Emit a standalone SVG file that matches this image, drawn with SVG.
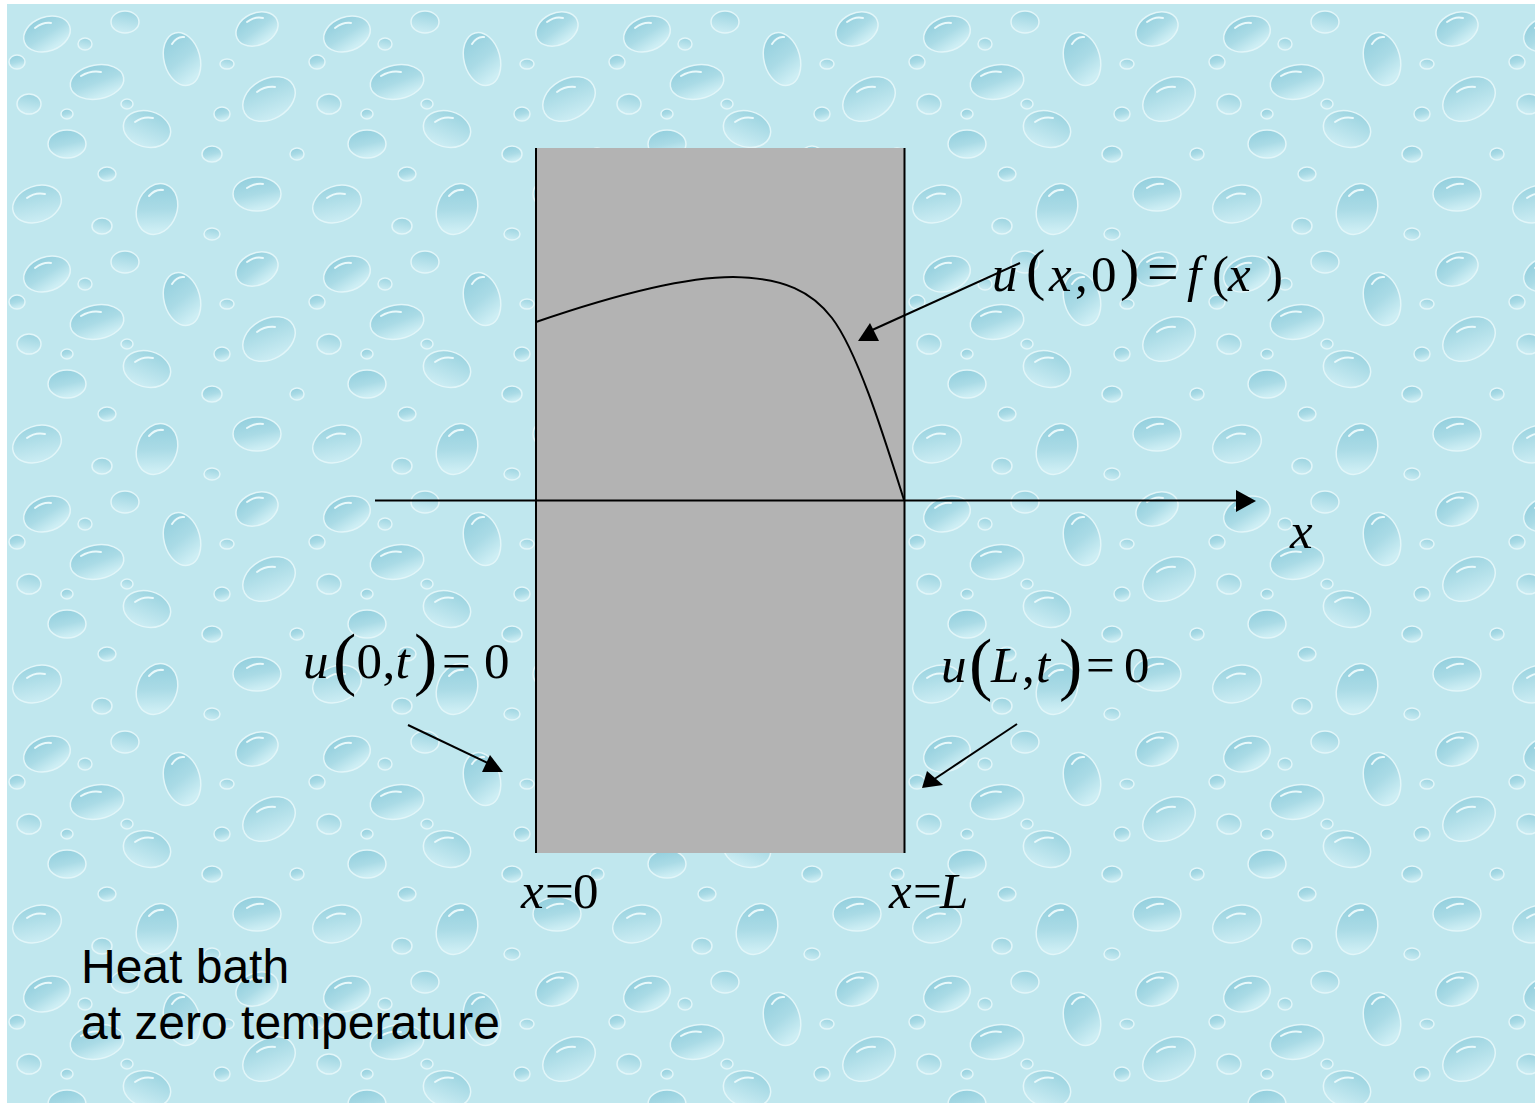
<svg xmlns="http://www.w3.org/2000/svg" width="1535" height="1103" viewBox="0 0 1535 1103">
  <defs>
    <linearGradient id="drop" x1="0" y1="0" x2="0.3" y2="1">
      <stop offset="0" stop-color="#8fcddc"/>
      <stop offset="0.6" stop-color="#aadbe6"/>
      <stop offset="1" stop-color="#cdeef4"/>
    </linearGradient>
    <linearGradient id="drop2" x1="0.2" y1="0" x2="0" y2="1">
      <stop offset="0" stop-color="#a0d6e2"/>
      <stop offset="1" stop-color="#d0eff5"/>
    </linearGradient>
    <pattern id="water" x="7" y="4" width="300" height="240" patternUnits="userSpaceOnUse">
      <rect width="300" height="240" fill="#c0e7ee"/>
      <g stroke="#e2f6f9" stroke-width="1.5">
        <ellipse cx="40" cy="30" rx="24" ry="17" fill="url(#drop)" transform="rotate(-20 40 30)"/>
        <ellipse cx="118" cy="18" rx="14" ry="11" fill="url(#drop2)"/>
        <ellipse cx="175" cy="55" rx="18" ry="27" fill="url(#drop)" transform="rotate(-15 175 55)"/>
        <ellipse cx="90" cy="78" rx="27" ry="17" fill="url(#drop)" transform="rotate(-10 90 78)"/>
        <ellipse cx="22" cy="100" rx="12" ry="10" fill="url(#drop2)"/>
        <ellipse cx="60" cy="140" rx="19" ry="14" fill="url(#drop)"/>
        <ellipse cx="140" cy="125" rx="24" ry="18" fill="url(#drop2)" transform="rotate(15 140 125)"/>
        <ellipse cx="205" cy="150" rx="10" ry="8" fill="url(#drop)"/>
        <ellipse cx="78" cy="40" rx="7" ry="6" fill="url(#drop2)"/>
        <ellipse cx="120" cy="100" rx="6" ry="5" fill="url(#drop2)"/>
        <ellipse cx="10" cy="58" rx="8" ry="7" fill="url(#drop)"/>
        <ellipse cx="100" cy="170" rx="9" ry="7" fill="url(#drop)"/>
        <ellipse cx="250" cy="25" rx="22" ry="16" fill="url(#drop)" transform="rotate(-25 250 25)"/>
        <ellipse cx="262" cy="95" rx="28" ry="20" fill="url(#drop2)" transform="rotate(-30 262 95)"/>
        <ellipse cx="215" cy="110" rx="8" ry="7" fill="url(#drop)"/>
        <ellipse cx="30" cy="200" rx="25" ry="18" fill="url(#drop2)" transform="rotate(-20 30 200)"/>
        <ellipse cx="150" cy="205" rx="20" ry="26" fill="url(#drop)" transform="rotate(20 150 205)"/>
        <ellipse cx="250" cy="190" rx="24" ry="17" fill="url(#drop)"/>
        <ellipse cx="95" cy="222" rx="10" ry="8" fill="url(#drop2)"/>
        <ellipse cx="205" cy="230" rx="8" ry="6" fill="url(#drop2)"/>
        <ellipse cx="290" cy="150" rx="7" ry="6" fill="url(#drop)"/>
        <ellipse cx="220" cy="60" rx="7" ry="5" fill="url(#drop2)"/>
        <ellipse cx="60" cy="110" rx="6" ry="5" fill="url(#drop)"/>
      </g>
      <path d="M28 24 q8 -6 16 -5 M165 40 q5 -8 12 -7 M74 72 q10 -6 20 -4 M128 118 q8 -6 18 -4 M240 18 q8 -6 16 -4 M250 88 q8 -6 18 -5 M20 194 q8 -6 18 -4 M142 192 q6 -7 14 -6 M240 184 q8 -5 16 -4" fill="none" stroke="#e9f9fb" stroke-width="2" stroke-linecap="round"/>
    </pattern>
    <style>
      .m { font-family: "Liberation Serif", "Times New Roman", serif; font-size: 51px; fill: #000; }
      .i { font-style: italic; }
      .t { font-family: "Liberation Sans", Arial, sans-serif; font-size: 48px; fill: #000; }
      .ln { stroke: #000; stroke-width: 2; fill: none; }
    </style>
  </defs>

  <rect width="1535" height="1103" fill="#ffffff"/>
  <rect x="7" y="4" width="1528" height="1099" fill="url(#water)"/>

  <g id="rod">
    <rect x="536" y="148" width="368" height="705" fill="#b3b3b3"/>
    <line class="ln" x1="536" y1="148" x2="536" y2="853"/>
    <line class="ln" x1="904.5" y1="148" x2="904.5" y2="853"/>
  </g>

  <g id="axis">
    <line class="ln" x1="375" y1="500.5" x2="1240" y2="500.5"/>
    <polygon points="1256,501 1236,490 1236,512" fill="#000"/>
    <text class="m i" x="1290" y="548">x</text>
  </g>

  <g id="curve">
    <path class="ln" d="M536,322 C600,300 680,277 733,277 C785,278 812,292 832,318 C858,352 885,440 904,500"/>
  </g>

  <g id="connectors">
    <line class="ln" x1="1020" y1="263" x2="870" y2="331"/>
    <polygon points="870,323 858,341 879,341" fill="#000"/>
    <line class="ln" x1="408" y1="725" x2="494" y2="766"/>
    <polygon points="503,772 482,772 490,755" fill="#000"/>
    <line class="ln" x1="1017" y1="724" x2="930" y2="782"/>
    <polygon points="922,788 927,771 943,785" fill="#000"/>
  </g>

  <g id="label-initial">
    <text class="m"><tspan class="i" x="992" y="291">u</tspan><tspan x="1026" y="289" font-size="58">(</tspan><tspan class="i" x="1049" y="291">x</tspan><tspan x="1075" y="291">,</tspan><tspan x="1091" y="291">0</tspan><tspan x="1120" y="289" font-size="58">)</tspan><tspan x="1147" y="291" font-size="56">=</tspan><tspan class="i" x="1187" y="291">f</tspan><tspan x="1212" y="291">(</tspan><tspan class="i" x="1228" y="291">x</tspan><tspan x="1266" y="291">)</tspan></text>
  </g>

  <g id="label-left">
    <text class="m"><tspan class="i" x="303" y="678">u</tspan><tspan x="333" y="682" font-size="70">(</tspan><tspan x="356.5" y="678">0</tspan><tspan x="382.5" y="678">,</tspan><tspan class="i" x="395.5" y="678">t</tspan><tspan x="414" y="682" font-size="70">)</tspan><tspan x="442" y="678">=</tspan><tspan x="484" y="678">0</tspan></text>
  </g>

  <g id="label-right">
    <text class="m"><tspan class="i" x="941" y="682">u</tspan><tspan x="969" y="687" font-size="70">(</tspan><tspan class="i" x="991" y="682">L</tspan><tspan x="1022" y="682">,</tspan><tspan class="i" x="1036" y="682">t</tspan><tspan x="1059" y="687" font-size="70">)</tspan><tspan x="1086" y="682">=</tspan><tspan x="1124" y="682">0</tspan></text>
  </g>

  <g id="label-x0">
    <text class="m"><tspan class="i" x="521" y="908">x</tspan><tspan x="545" y="908">=</tspan><tspan x="573" y="908">0</tspan></text>
  </g>

  <g id="label-xL">
    <text class="m"><tspan class="i" x="889" y="908">x</tspan><tspan x="913" y="908">=</tspan><tspan class="i" x="940" y="908">L</tspan></text>
  </g>

  <g id="label-bath">
    <text class="t" x="81" y="983">Heat bath</text>
    <text class="t" x="81" y="1039">at zero temperature</text>
  </g>
</svg>
